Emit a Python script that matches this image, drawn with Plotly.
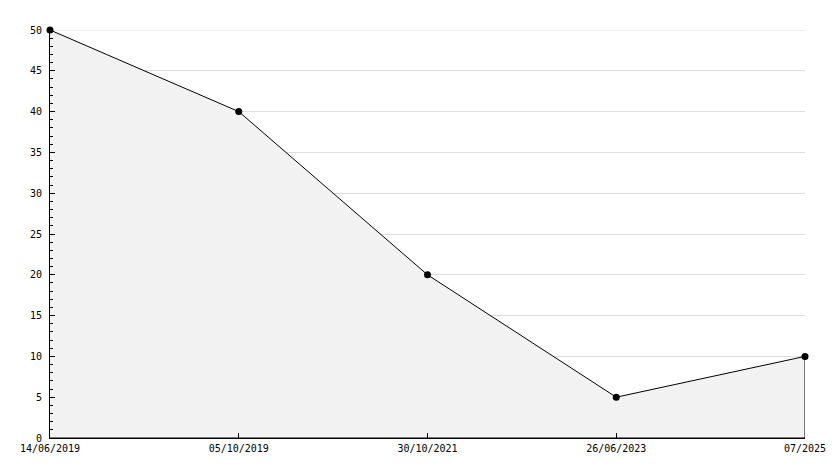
import plotly.graph_objects as go

categories = ["14/06/2019", "05/10/2019", "30/10/2021", "26/06/2023", "07/2025"]
values = [50, 40, 20, 5, 10]
y_ticks = [0, 5, 10, 15, 20, 25, 30, 35, 40, 45, 50]

font = dict(family="DejaVu Sans Mono", size=10, color="#000")

fig = go.Figure()
# filled polygon (area under line, closed to baseline)
fig.add_trace(go.Scatter(
    x=categories + [categories[-1], categories[0]],
    y=values + [0, 0],
    mode="lines", fill="toself", fillcolor="#f2f2f2",
    line=dict(color="#000", width=1), hoverinfo="skip", showlegend=False,
))
fig.add_trace(go.Scatter(
    x=categories, y=values, mode="markers", cliponaxis=False,
    marker=dict(color="#000", size=7, symbol="circle"), showlegend=False,
))

# top gridline at the max tick (plotly omits gridlines on the plot edge)
fig.add_shape(type="line", xref="paper", x0=0, x1=1, yref="y",
              y0=max(y_ticks), y1=max(y_ticks),
              line=dict(color="#dddddd", width=1), layer="below")

fig.update_layout(
    width=826, height=460,
    margin=dict(l=42, r=29, t=22, b=30, autoexpand=False),
    paper_bgcolor="#fff", plot_bgcolor="#fff",
    font=font,
    xaxis=dict(
        type="category", categoryorder="array", categoryarray=categories,
        range=[0, len(categories) - 1], automargin=False,
        showgrid=False, zeroline=False,
        showline=True, linecolor="#000", linewidth=1,
        ticks="inside", ticklen=5, tickcolor="#000", tickfont=font,
        ticklabelstandoff=1,
    ),
    yaxis=dict(
        range=[0, max(y_ticks)], tickvals=y_ticks, automargin=False,
        showgrid=True, gridcolor="#dddddd", gridwidth=1, zeroline=False,
        showline=True, linecolor="#000", linewidth=1,
        ticks="inside", ticklen=5, tickcolor="#000", tickfont=font,
        ticklabelstandoff=5,
        minor=dict(dtick=1, ticks="inside", ticklen=3, tickcolor="#000", showgrid=False),
    ),
)

fig.write_html("out.html")
